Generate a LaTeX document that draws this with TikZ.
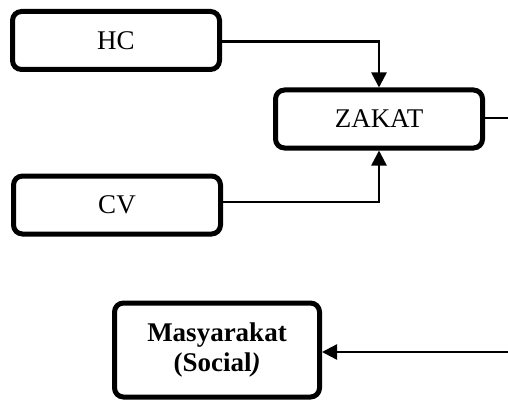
\documentclass[tikz,border=0pt]{standalone}
\usepackage{fontspec}
\setmainfont{Liberation Serif}
\usepackage{tikz}
\usetikzlibrary{arrows.meta, positioning}
\tikzset{
    box/.style={draw=black, line width=5pt, fill=white, rounded corners=9pt, align=center, font=\fontsize{27}{30}\selectfont, minimum height=58pt, minimum width=207pt, inner sep=0pt, text depth=-2pt},
    socialbox/.style={box, minimum height=94pt, minimum width=205pt, font=\fontsize{27}{30}\selectfont\bfseries, text depth=},
    arr/.style={-{Triangle[length=15pt, width=15pt]}, line width=2.5pt, draw=black},
    link/.style={line width=2.5pt, draw=black}
}
\begin{document}
\begin{tikzpicture}[x=1pt, y=-1pt]
    \useasboundingbox (0,0) rectangle (508,401);

    \node[box] (hc) at (116,40.5) {HC};
    \node[box] (zakat) at (379,119) {ZAKAT};
    \node[box] (cv) at (117,205) {CV};
    \node[socialbox] (masy) at (217,350) {Masyarakat\\(Social\textit{)}};

    % lines leaving the picture on the right
    \coordinate (zakatout) at (508,118);
    \coordinate (masyin) at (508,352);

    \draw[arr] (hc.east |- 0,41.5) -| (zakat.north);
    \draw[arr] (cv.east |- 0,202) -| (zakat.south);
    \draw[link] (zakat.east |- zakatout) -- (zakatout);
    \draw[arr] (masyin) -- (masy.east |- masyin);
\end{tikzpicture}
\end{document}
